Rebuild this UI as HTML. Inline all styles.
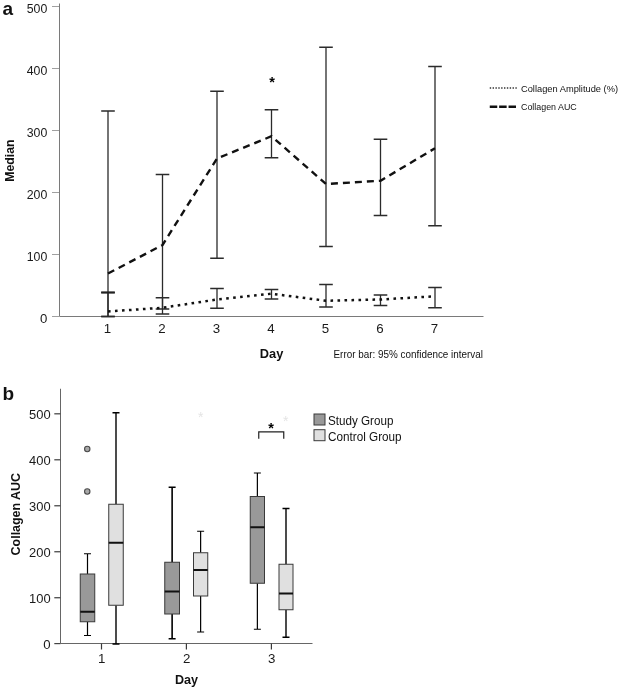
<!DOCTYPE html>
<html><head><meta charset="utf-8"><title>Figure</title>
<style>html,body{margin:0;padding:0;background:#fff}svg{display:block;will-change:transform;-webkit-font-smoothing:antialiased}</style></head>
<body>
<svg width="621" height="689" viewBox="0 0 621 689">
<rect width="621" height="689" fill="#fff"/>
<text x="2.5" y="14.5" font-family="Liberation Sans, Arial, sans-serif" font-size="19" font-weight="bold" fill="#111">a</text>
<g stroke="#7a7a7a" stroke-width="1" fill="none">
<path d="M59.5 3.5V316.5H483.5"/>
<path d="M52 316.5H59.0" stroke="#a0a0a0"/>
<path d="M52 254.5H59.0" stroke="#a0a0a0"/>
<path d="M52 192.5H59.0" stroke="#a0a0a0"/>
<path d="M52 130.5H59.0" stroke="#a0a0a0"/>
<path d="M52 68.5H59.0" stroke="#a0a0a0"/>
<path d="M52 6.5H59.0" stroke="#a0a0a0"/>
</g>
<text x="47.3" y="322.7" font-family="Liberation Sans, Arial, sans-serif" font-size="13.2" text-anchor="end" fill="#1a1a1a">0</text>
<text x="47.3" y="260.7" font-family="Liberation Sans, Arial, sans-serif" font-size="13.2" text-anchor="end" fill="#1a1a1a" textLength="20.6" lengthAdjust="spacingAndGlyphs">100</text>
<text x="47.3" y="198.7" font-family="Liberation Sans, Arial, sans-serif" font-size="13.2" text-anchor="end" fill="#1a1a1a" textLength="20.6" lengthAdjust="spacingAndGlyphs">200</text>
<text x="47.3" y="136.7" font-family="Liberation Sans, Arial, sans-serif" font-size="13.2" text-anchor="end" fill="#1a1a1a" textLength="20.6" lengthAdjust="spacingAndGlyphs">300</text>
<text x="47.3" y="74.7" font-family="Liberation Sans, Arial, sans-serif" font-size="13.2" text-anchor="end" fill="#1a1a1a" textLength="20.6" lengthAdjust="spacingAndGlyphs">400</text>
<text x="47.3" y="12.7" font-family="Liberation Sans, Arial, sans-serif" font-size="13.2" text-anchor="end" fill="#1a1a1a" textLength="20.6" lengthAdjust="spacingAndGlyphs">500</text>
<text x="107.5" y="332.8" font-family="Liberation Sans, Arial, sans-serif" font-size="13.3" text-anchor="middle" fill="#1a1a1a">1</text>
<text x="162.0" y="332.8" font-family="Liberation Sans, Arial, sans-serif" font-size="13.3" text-anchor="middle" fill="#1a1a1a">2</text>
<text x="216.5" y="332.8" font-family="Liberation Sans, Arial, sans-serif" font-size="13.3" text-anchor="middle" fill="#1a1a1a">3</text>
<text x="271.0" y="332.8" font-family="Liberation Sans, Arial, sans-serif" font-size="13.3" text-anchor="middle" fill="#1a1a1a">4</text>
<text x="325.5" y="332.8" font-family="Liberation Sans, Arial, sans-serif" font-size="13.3" text-anchor="middle" fill="#1a1a1a">5</text>
<text x="380.0" y="332.8" font-family="Liberation Sans, Arial, sans-serif" font-size="13.3" text-anchor="middle" fill="#1a1a1a">6</text>
<text x="434.5" y="332.8" font-family="Liberation Sans, Arial, sans-serif" font-size="13.3" text-anchor="middle" fill="#1a1a1a">7</text>
<text transform="translate(14.3,160.6) rotate(-90)" font-family="Liberation Sans, Arial, sans-serif" font-size="12.3" font-weight="bold" text-anchor="middle" fill="#111">Median</text>
<text x="271.6" y="358.2" font-family="Liberation Sans, Arial, sans-serif" font-size="12.8" font-weight="bold" text-anchor="middle" fill="#111">Day</text>
<text x="333.5" y="357.7" font-family="Liberation Sans, Arial, sans-serif" font-size="10.8" fill="#111" textLength="149.5" lengthAdjust="spacingAndGlyphs">Error bar: 95% confidence interval</text>
<g stroke="#2b2b2b" stroke-width="1.3" fill="none">
<path d="M108 111V316.5M101.2 111H114.8M101.2 316.5H114.8"/>
<path d="M162.5 174.5V309M155.7 174.5H169.3M155.7 309H169.3"/>
<path d="M217 91.25V258.25M210.2 91.25H223.8M210.2 258.25H223.8"/>
<path d="M271.5 109.75V157.75M264.7 109.75H278.3M264.7 157.75H278.3"/>
<path d="M326 47.25V246.5M319.2 47.25H332.8M319.2 246.5H332.8"/>
<path d="M380.5 139.25V215.5M373.7 139.25H387.3M373.7 215.5H387.3"/>
<path d="M435 66.5V225.75M428.2 66.5H441.8M428.2 225.75H441.8"/>
<path d="M108 292.5V316.5M101.2 292.5H114.8M101.2 316.5H114.8"/>
<path d="M162.5 297.75V314M155.7 297.75H169.3M155.7 314H169.3"/>
<path d="M217 288.5V308.25M210.2 288.5H223.8M210.2 308.25H223.8"/>
<path d="M271.5 289.5V299M264.7 289.5H278.3M264.7 299H278.3"/>
<path d="M326 284.5V307M319.2 284.5H332.8M319.2 307H332.8"/>
<path d="M380.5 295V305.5M373.7 295H387.3M373.7 305.5H387.3"/>
<path d="M435 287.5V307.75M428.2 287.5H441.8M428.2 307.75H441.8"/>
</g>
<path d="M101.2 292.5H114.8" stroke="#222" stroke-width="2"/>
<polyline points="108,273.5 162.5,245 217,158.5 271.5,136.25 326,184 380.5,180.75 435,148.25" fill="none" stroke="#111" stroke-width="2.4" stroke-dasharray="7 5"/>
<polyline points="108,311.5 162.5,307.75 217,299.5 271.5,293.75 326,300.75 380.5,299.5 435,296.25" fill="none" stroke="#111" stroke-width="2.5" stroke-dasharray="2.6 4.4"/>
<text x="272" y="86.5" font-family="Liberation Sans, Arial, sans-serif" font-size="14.5" font-weight="bold" text-anchor="middle" fill="#000">*</text>
<path d="M489.75 88H516.75" stroke="#333" stroke-width="1.4" stroke-dasharray="1.4 1.45"/>
<path d="M489.75 106.75H516" stroke="#111" stroke-width="2.4" stroke-dasharray="7.5 1.9"/>
<text x="521" y="91.7" font-family="Liberation Sans, Arial, sans-serif" font-size="9.5" fill="#111" textLength="97" lengthAdjust="spacingAndGlyphs">Collagen Amplitude (%)</text>
<text x="521" y="110" font-family="Liberation Sans, Arial, sans-serif" font-size="9.5" fill="#111" textLength="55.75" lengthAdjust="spacingAndGlyphs">Collagen AUC</text>
<text x="2.5" y="400.3" font-family="Liberation Sans, Arial, sans-serif" font-size="19" font-weight="bold" fill="#111">b</text>
<g stroke="#666" stroke-width="1" fill="none">
<path d="M60.5 388.75V643.5M60.5 643.5H312.5"/>
<path d="M54.3 643.6H60.5" stroke="#444" stroke-width="1.2"/>
<path d="M54.3 597.72H60.5" stroke="#4a4a4a" stroke-width="1.3"/>
<path d="M54.3 551.74H60.5" stroke="#4a4a4a" stroke-width="1.3"/>
<path d="M54.3 505.76000000000005H60.5" stroke="#4a4a4a" stroke-width="1.3"/>
<path d="M54.3 459.7800000000001H60.5" stroke="#4a4a4a" stroke-width="1.3"/>
<path d="M54.3 413.80000000000007H60.5" stroke="#4a4a4a" stroke-width="1.3"/>
<path d="M101.5 643.5V649.5" stroke="#3a3a3a" stroke-width="1.2"/>
<path d="M186.4 643.5V649.5" stroke="#3a3a3a" stroke-width="1.2"/>
<path d="M271.4 643.5V649.5" stroke="#3a3a3a" stroke-width="1.2"/>
</g>
<text x="50.6" y="648.6" font-family="Liberation Sans, Arial, sans-serif" font-size="13.2" text-anchor="end" fill="#1a1a1a">0</text>
<text x="50.6" y="602.62" font-family="Liberation Sans, Arial, sans-serif" font-size="13.2" text-anchor="end" fill="#1a1a1a" textLength="21.6" lengthAdjust="spacingAndGlyphs">100</text>
<text x="50.6" y="556.64" font-family="Liberation Sans, Arial, sans-serif" font-size="13.2" text-anchor="end" fill="#1a1a1a" textLength="21.6" lengthAdjust="spacingAndGlyphs">200</text>
<text x="50.6" y="510.66" font-family="Liberation Sans, Arial, sans-serif" font-size="13.2" text-anchor="end" fill="#1a1a1a" textLength="21.6" lengthAdjust="spacingAndGlyphs">300</text>
<text x="50.6" y="464.68000000000006" font-family="Liberation Sans, Arial, sans-serif" font-size="13.2" text-anchor="end" fill="#1a1a1a" textLength="21.6" lengthAdjust="spacingAndGlyphs">400</text>
<text x="50.6" y="418.70000000000005" font-family="Liberation Sans, Arial, sans-serif" font-size="13.2" text-anchor="end" fill="#1a1a1a" textLength="21.6" lengthAdjust="spacingAndGlyphs">500</text>
<text x="101.7" y="662.9" font-family="Liberation Sans, Arial, sans-serif" font-size="13.3" text-anchor="middle" fill="#1a1a1a">1</text>
<text x="186.7" y="662.9" font-family="Liberation Sans, Arial, sans-serif" font-size="13.3" text-anchor="middle" fill="#1a1a1a">2</text>
<text x="271.7" y="662.9" font-family="Liberation Sans, Arial, sans-serif" font-size="13.3" text-anchor="middle" fill="#1a1a1a">3</text>
<text transform="translate(19.5,514.2) rotate(-90)" font-family="Liberation Sans, Arial, sans-serif" font-size="12.5" font-weight="bold" text-anchor="middle" fill="#111" textLength="82.4" lengthAdjust="spacingAndGlyphs">Collagen AUC</text>
<text x="186.5" y="683.7" font-family="Liberation Sans, Arial, sans-serif" font-size="13.2" font-weight="bold" text-anchor="middle" fill="#111" textLength="23.1" lengthAdjust="spacingAndGlyphs">Day</text>
<path d="M87.5 553.75V574M87.5 621.75V635.5M84.0 553.75H91.0M84.0 635.5H91.0" stroke="#000" stroke-width="1.2" fill="none"/>
<rect x="80.25" y="574" width="14.5" height="47.75" fill="#999" stroke="#3a3a3a" stroke-width="1"/>
<path d="M80.25 611.75H94.75" stroke="#111" stroke-width="2"/>
<path d="M116.0 412.75V504.25M116.0 605.25V644M112.5 412.75H119.5M112.5 644H119.5" stroke="#000" stroke-width="1.4" fill="none"/>
<rect x="108.75" y="504.25" width="14.5" height="101.0" fill="#e0e0e0" stroke="#3a3a3a" stroke-width="1"/>
<path d="M108.75 542.75H123.25" stroke="#111" stroke-width="2"/>
<path d="M172.125 487.25V562.25M172.125 614V638.75M168.625 487.25H175.625M168.625 638.75H175.625" stroke="#000" stroke-width="1.6" fill="none"/>
<rect x="164.75" y="562.25" width="14.75" height="51.75" fill="#999" stroke="#3a3a3a" stroke-width="1"/>
<path d="M164.75 591.5H179.5" stroke="#111" stroke-width="2"/>
<path d="M200.625 531.25V552.75M200.625 596V632M197.125 531.25H204.125M197.125 632H204.125" stroke="#000" stroke-width="1.2" fill="none"/>
<rect x="193.5" y="552.75" width="14.25" height="43.25" fill="#e0e0e0" stroke="#3a3a3a" stroke-width="1"/>
<path d="M193.5 570H207.75" stroke="#111" stroke-width="2"/>
<path d="M257.375 473V496.5M257.375 583.25V629.25M253.875 473H260.875M253.875 629.25H260.875" stroke="#000" stroke-width="1.2" fill="none"/>
<rect x="250.25" y="496.5" width="14.25" height="86.75" fill="#999" stroke="#3a3a3a" stroke-width="1"/>
<path d="M250.25 527.25H264.5" stroke="#111" stroke-width="2"/>
<path d="M286.0 508.5V564.25M286.0 609.75V637.25M282.5 508.5H289.5M282.5 637.25H289.5" stroke="#000" stroke-width="1.4" fill="none"/>
<rect x="279" y="564.25" width="14" height="45.5" fill="#e0e0e0" stroke="#3a3a3a" stroke-width="1"/>
<path d="M279 593.5H293" stroke="#111" stroke-width="2"/>
<circle cx="87.25" cy="449" r="2.7" fill="#a8a8a8" stroke="#4a4a4a" stroke-width="1.1"/>
<circle cx="87.25" cy="491.5" r="2.7" fill="#a8a8a8" stroke="#4a4a4a" stroke-width="1.1"/>
<path d="M258.75 438.75V431.8H283.75V438.75" fill="none" stroke="#222" stroke-width="1.2"/>
<text x="271" y="433.2" font-family="Liberation Sans, Arial, sans-serif" font-size="14.5" font-weight="bold" text-anchor="middle" fill="#000">*</text>
<text x="200.75" y="421.5" font-family="Liberation Sans, Arial, sans-serif" font-size="14" text-anchor="middle" fill="#e4e4e4">*</text>
<text x="285.75" y="425.5" font-family="Liberation Sans, Arial, sans-serif" font-size="14" text-anchor="middle" fill="#e4e4e4">*</text>
<rect x="314" y="414" width="11" height="11" fill="#999" stroke="#3a3a3a" stroke-width="1"/>
<rect x="314" y="429.7" width="11" height="11" fill="#e0e0e0" stroke="#3a3a3a" stroke-width="1"/>
<text x="328" y="425.3" font-family="Liberation Sans, Arial, sans-serif" font-size="12.6" fill="#111" textLength="65.4" lengthAdjust="spacingAndGlyphs">Study Group</text>
<text x="328" y="440.9" font-family="Liberation Sans, Arial, sans-serif" font-size="12.6" fill="#111" textLength="73.6" lengthAdjust="spacingAndGlyphs">Control Group</text>
</svg>
</body></html>
